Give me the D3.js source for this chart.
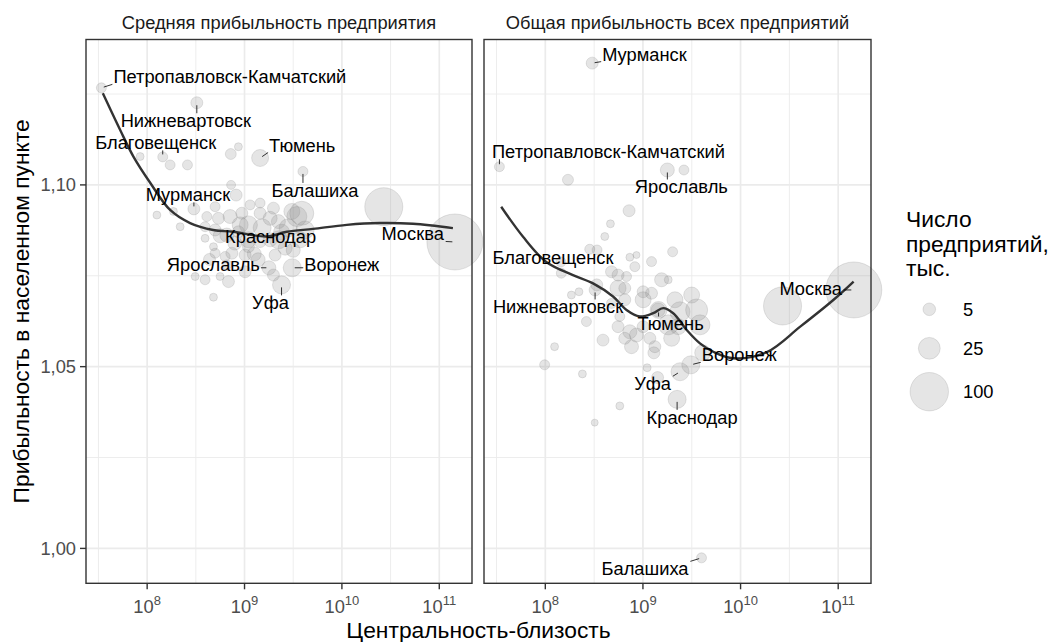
<!DOCTYPE html>
<html>
<head>
<meta charset="utf-8">
<script src="https://cdn.jsdelivr.net/npm/d3@7"></script>
<style>
  body { margin: 0; background: #fff; }
  text { font-family: "Liberation Sans", Arial, sans-serif; }
</style>
</head>
<body>
<svg id="chart" width="1049" height="642"></svg>
<script>
// labelled cities: log10 of closeness centrality, firms (thousands), profitability
const cityNames = ['Петропавловск-Камчатский', 'Нижневартовск', 'Благовещенск', 'Тюмень', 'Балашиха',
  'Мурманск', 'Краснодар', 'Ярославль', 'Воронеж', 'Уфа', 'Москва'];
const cityLogC = [7.53, 8.51, 8.16, 9.16, 9.60, 8.48, 9.35, 9.25, 9.49, 9.38, 11.16];
const cityFirms = [2.1, 4.2, 2.1, 12.7, 2.1, 4.2, 15, 7.1, 15, 15, 234];
const cityAvgProfit = [1.1267, 1.1226, 1.1077, 1.1074, 1.1037, 1.0934, 1.0849, 1.0772, 1.0772, 1.0725, 1.0843];
const cityTotalProfit = [1.1050, 1.0711, 1.0788, 1.0656, 0.9974, 1.1335, 1.0410, 1.1041, 1.0505, 1.0486, 1.0711];

// other cities [log10 centrality, profitability, firms]
const avgOthers = [
  [8.937, 1.1105, 0.7], [8.859, 1.1085, 3.0], [7.928, 1.1078, 0.7], [8.236, 1.1055, 2.1], [8.414, 1.1055, 2.1],
  [8.862, 1.1000, 1.3], [8.914, 1.0972, 4.2], [8.698, 1.0940, 2.1], [8.270, 1.0927, 0.7], [8.100, 1.0917, 0.7],
  [8.613, 1.0913, 2.1], [8.732, 1.0908, 4.2], [8.852, 1.0913, 7.1], [8.972, 1.0922, 4.2], [9.057, 1.0945, 2.1],
  [9.160, 1.0950, 2.1], [9.160, 1.0922, 4.2], [9.297, 1.0936, 4.2], [9.263, 1.0908, 7.1], [9.348, 1.0899, 7.1],
  [9.537, 1.0913, 20], [9.588, 1.0922, 32], [9.486, 1.0927, 10.6], [8.339, 1.0885, 0.7], [8.595, 1.0885, 2.1],
  [8.595, 1.0853, 0.7], [8.698, 1.0876, 4.2], [8.818, 1.0862, 7.1], [8.937, 1.0871, 4.2], [9.040, 1.0849, 10.6],
  [9.040, 1.0830, 4.2], [9.160, 1.0844, 4.2], [9.263, 1.0849, 7.1], [9.417, 1.0826, 7.1], [9.571, 1.0849, 10.6],
  [8.681, 1.0830, 0.7], [8.801, 1.0803, 2.1], [8.698, 1.0812, 2.1], [9.006, 1.0807, 4.2], [9.314, 1.0807, 4.2],
  [8.493, 1.0748, 0.7], [8.595, 1.0739, 2.1], [8.749, 1.0748, 0.7], [8.835, 1.0734, 4.2], [8.681, 1.0691, 0.7],
  [8.870, 1.0812, 4.2], [9.006, 1.0761, 4.2], [9.297, 1.0752, 4.2], [8.818, 1.0780, 2.1], [8.955, 1.0890, 10.6],
  [9.448, 1.0882, 14.9], [9.181, 1.0882, 14.9], [9.622, 1.0876, 14.9], [9.140, 1.0794, 7.1], [10.43, 1.0940, 98],
  [9.040, 1.0890, 14.9], [8.750, 1.0860, 7.1], [9.380, 1.0870, 10.6], [9.500, 1.0820, 7.1], [8.900, 1.0840, 7.1],
  [9.100, 1.0810, 7.1], [8.640, 1.0795, 4.2]
];
const totalOthers = [
  [8.232, 1.1014, 3.1], [9.420, 1.1041, 2.1], [8.858, 1.0929, 4.2], [8.667, 1.0893, 0.7], [8.609, 1.0858, 0.7],
  [8.455, 1.0823, 2.1], [8.530, 1.0821, 2.1], [8.934, 1.0807, 0.3], [8.866, 1.0801, 0.7], [9.304, 1.0816, 2.1],
  [9.088, 1.0789, 2.1], [8.917, 1.0775, 2.1], [8.678, 1.0761, 4.2], [8.745, 1.0752, 4.2], [8.832, 1.0748, 2.1],
  [9.191, 1.0739, 7.1], [9.259, 1.0739, 0.7], [8.164, 1.0757, 2.1], [8.267, 1.0697, 0.7], [8.345, 1.0706, 0.7],
  [8.745, 1.0716, 10.6], [8.814, 1.0716, 4.2], [9.002, 1.0706, 4.2], [9.088, 1.0702, 4.2], [9.002, 1.0684, 10.6],
  [9.328, 1.0684, 10.6], [9.499, 1.0697, 10.6], [9.550, 1.0656, 25.7], [9.584, 1.0615, 20], [9.379, 1.0651, 20],
  [9.259, 1.0615, 20], [9.156, 1.0656, 7.1], [8.814, 1.0684, 4.2], [8.678, 1.0674, 2.1], [8.421, 1.0624, 2.1],
  [8.763, 1.0638, 2.1], [8.745, 1.0610, 4.2], [8.866, 1.0596, 7.1], [8.934, 1.0587, 7.1], [8.814, 1.0578, 4.2],
  [9.002, 1.0610, 4.2], [9.071, 1.0578, 4.2], [8.883, 1.0555, 7.1], [8.591, 1.0573, 4.2], [9.294, 1.0578, 10.6],
  [9.361, 1.0610, 10.6], [9.122, 1.0555, 4.2], [8.095, 1.0555, 0.7], [7.993, 1.0505, 2.1], [8.380, 1.0480, 0.7],
  [9.043, 1.0497, 0.7], [9.150, 1.0470, 4.2], [8.763, 1.0392, 0.7], [8.506, 1.0346, 0.3], [9.112, 1.0538, 4.2],
  [9.612, 1.0538, 10.6], [8.527, 1.0725, 4.2], [10.43, 1.0667, 98]
];

// loess trend lines [log10 centrality, profitability]
const avgTrend = [
  [7.545, 1.1252], [7.723, 1.1151], [7.859, 1.1078], [8.031, 1.1006], [8.236, 1.0931], [8.441, 1.0895],
  [8.678, 1.0876], [8.883, 1.0871], [9.229, 1.0858], [9.434, 1.0871], [9.704, 1.0879], [10.05, 1.0890],
  [10.39, 1.0895], [10.73, 1.0893], [11.14, 1.0881]
];
const totalTrend = [
  [7.548, 1.0940], [7.770, 1.0858], [8.010, 1.0788], [8.283, 1.0752], [8.489, 1.0729], [8.694, 1.0693],
  [8.832, 1.0656], [8.968, 1.0638], [9.105, 1.0647], [9.207, 1.0661], [9.310, 1.0647], [9.448, 1.0601],
  [9.584, 1.0564], [9.721, 1.0541], [9.926, 1.0523], [10.269, 1.0540], [10.611, 1.0610], [10.953, 1.0684],
  [11.158, 1.0734]
];

const xTicks = [8, 9, 10, 11];
const xMinor = [7.5, 8.5, 9.5, 10.5];
const yTicks = [1.00, 1.05, 1.10];
const yMinor = [1.025, 1.075, 1.125];
const legendValues = [5, 25, 100];

// label placement relative to point: [anchor, dx, dy]
const avgLabelPos = {
  'Петропавловск-Камчатский': ['start', 12, -11], 'Нижневартовск': ['middle', -11, 18],
  'Благовещенск': ['middle', -7, -14], 'Тюмень': ['start', 9, -13], 'Балашиха': ['middle', 12, 19],
  'Мурманск': ['middle', -6, -14], 'Краснодар': ['middle', -8, -3], 'Ярославль': ['end', -9, -3],
  'Воронеж': ['start', 12, -3], 'Уфа': ['middle', -11, 18], 'Москва': ['end', -11, -8]
};
const totalLabelPos = {
  'Петропавловск-Камчатский': ['middle', 109, -15], 'Нижневартовск': ['middle', -37, 17],
  'Благовещенск': ['middle', -8, -4], 'Тюмень': ['middle', 12, 14], 'Балашиха': ['end', -13, 11],
  'Мурманск': ['start', 10, -9], 'Краснодар': ['middle', 15, 18], 'Ярославль': ['middle', 14, 17],
  'Воронеж': ['start', 11, -10], 'Уфа': ['end', -9, 12], 'Москва': ['end', -12, -1]
};

const svg = d3.select('#chart');
const plotTop = 39.5, plotBottom = 583.3;
const small = 18.3, big = 22.8;

const y = d3.scaleLinear().domain([0.9904, 1.1400]).range([plotBottom, plotTop]);
const size = d3.scalePow().exponent(0.5).domain([5, 100]).range([6.3, 19.2]);

const panels = [
  { title: 'Средняя прибыльность предприятия', x0: 86, x1: 472, profit: cityAvgProfit,
    others: avgOthers, trend: avgTrend, labelPos: avgLabelPos },
  { title: 'Общая прибыльность всех предприятий', x0: 484, x1: 871, profit: cityTotalProfit,
    others: totalOthers, trend: totalTrend, labelPos: totalLabelPos }
];

const ptFill = 'rgba(127,127,127,0.2)';

panels.forEach((p, pi) => {
  const x = d3.scaleLinear().domain([7.372, 11.336]).range([p.x0, p.x1]);
  const g = svg.append('g');

  g.append('rect').attr('x', p.x0).attr('y', plotTop).attr('width', p.x1 - p.x0)
    .attr('height', plotBottom - plotTop).attr('fill', '#fff');

  // grid
  g.selectAll('.xminor').data(xMinor).enter().append('line')
    .attr('x1', d => x(d)).attr('x2', d => x(d)).attr('y1', plotTop).attr('y2', plotBottom)
    .attr('stroke', '#ebebeb').attr('stroke-width', 0.9);
  g.selectAll('.yminor').data(yMinor).enter().append('line')
    .attr('y1', d => y(d)).attr('y2', d => y(d)).attr('x1', p.x0).attr('x2', p.x1)
    .attr('stroke', '#ebebeb').attr('stroke-width', 0.9);
  g.selectAll('.xmajor').data(xTicks).enter().append('line')
    .attr('x1', d => x(d)).attr('x2', d => x(d)).attr('y1', plotTop).attr('y2', plotBottom)
    .attr('stroke', '#ebebeb').attr('stroke-width', 1.7);
  g.selectAll('.ymajor').data(yTicks).enter().append('line')
    .attr('y1', d => y(d)).attr('y2', d => y(d)).attr('x1', p.x0).attr('x2', p.x1)
    .attr('stroke', '#ebebeb').attr('stroke-width', 1.7);

  // points
  const pts = p.others.map(d => ({ lc: d[0], v: d[1], n: d[2] }))
    .concat(cityNames.map((nm, i) => ({ name: nm, lc: cityLogC[i], v: p.profit[i], n: cityFirms[i] })));
  g.selectAll('.pt').data(pts).enter().append('circle')
    .attr('cx', d => x(d.lc)).attr('cy', d => y(d.v)).attr('r', d => size(d.n))
    .attr('fill', ptFill).attr('stroke', ptFill).attr('stroke-width', 1);

  // trend
  const line = d3.line().curve(d3.curveCatmullRom).x(d => x(d[0])).y(d => y(d[1]));
  g.append('path').datum(p.trend).attr('d', line).attr('fill', 'none')
    .attr('stroke', '#333').attr('stroke-width', 2.4);

  // labels with repel-like segments
  cityNames.forEach((nm, i) => {
    const px = x(cityLogC[i]), py = y(p.profit[i]);
    const pos = p.labelPos[nm];
    const t = g.append('text').attr('x', px + pos[1]).attr('y', py + pos[2])
      .attr('text-anchor', pos[0]).attr('dominant-baseline', 'central')
      .attr('font-size', small).attr('fill', '#000').text(nm);
    const b = t.node().getBBox();
    const bx0 = b.x - 1, bx1 = b.x + b.width + 1, by0 = b.y + 3, by1 = b.y + b.height - 3;
    const cx = Math.max(bx0, Math.min(px, bx1)), cy = Math.max(by0, Math.min(py, by1));
    const dx = px - cx, dy = py - cy, len = Math.hypot(dx, dy);
    if (len > 5) {
      const end = len - 2.5;
      g.append('line').attr('x1', cx).attr('y1', cy)
        .attr('x2', cx + dx / len * end).attr('y2', cy + dy / len * end)
        .attr('stroke', '#000').attr('stroke-width', 0.8);
    }
  });

  // border
  g.append('rect').attr('x', p.x0).attr('y', plotTop).attr('width', p.x1 - p.x0)
    .attr('height', plotBottom - plotTop).attr('fill', 'none').attr('stroke', '#333').attr('stroke-width', 1.4);

  // x axis
  const xa = g.append('g').attr('transform', `translate(0,${plotBottom})`);
  xa.selectAll('line').data(xTicks).enter().append('line')
    .attr('x1', d => x(d)).attr('x2', d => x(d)).attr('y1', 0).attr('y2', 6)
    .attr('stroke', '#333').attr('stroke-width', 1.4);
  const tl = xa.selectAll('text').data(xTicks).enter().append('text')
    .attr('x', d => x(d)).attr('y', 29.7).attr('text-anchor', 'middle')
    .attr('font-size', small).attr('fill', '#4d4d4d');
  tl.append('tspan').text('10');
  tl.append('tspan').attr('font-size', 13).attr('dy', -8).text(d => d);

  // strip title
  g.append('text').attr('x', (p.x0 + p.x1) / 2).attr('y', 22.5).attr('text-anchor', 'middle')
    .attr('dominant-baseline', 'central').attr('font-size', small).attr('fill', '#1a1a1a').text(p.title);

  // y axis on the first panel only
  if (pi === 0) {
    const ya = g.append('g');
    ya.selectAll('line').data(yTicks).enter().append('line')
      .attr('x1', p.x0 - 6).attr('x2', p.x0).attr('y1', d => y(d)).attr('y2', d => y(d))
      .attr('stroke', '#333').attr('stroke-width', 1.4);
    ya.selectAll('text').data(yTicks).enter().append('text')
      .attr('x', p.x0 - 10).attr('y', d => y(d)).attr('text-anchor', 'end')
      .attr('dominant-baseline', 'central').attr('font-size', small).attr('fill', '#4d4d4d')
      .text(d => d3.format('.2f')(d).replace('.', ','));
  }
});

// axis titles
svg.append('text').attr('x', 478.5).attr('y', 630).attr('text-anchor', 'middle')
  .attr('dominant-baseline', 'central').attr('font-size', big).attr('fill', '#000')
  .text('Центральность-близость');
svg.append('text').attr('transform', `translate(21,${(plotTop + plotBottom) / 2}) rotate(-90)`)
  .attr('text-anchor', 'middle').attr('dominant-baseline', 'central').attr('font-size', big)
  .attr('fill', '#000').text('Прибыльность в населенном пункте');

// legend
const lg = svg.append('g');
['Число', 'предприятий,', 'тыс.'].forEach((s, i) => {
  lg.append('text').attr('x', 906).attr('y', 219 + i * 24.5).attr('dominant-baseline', 'central')
    .attr('font-size', big).attr('fill', '#000').text(s);
});
const keyY = [309.3, 348.3, 391.7];
lg.selectAll('circle').data(legendValues).enter().append('circle')
  .attr('cx', 929.3).attr('cy', (d, i) => keyY[i]).attr('r', d => size(d))
  .attr('fill', ptFill).attr('stroke', ptFill).attr('stroke-width', 1);
lg.selectAll('.lt').data(legendValues).enter().append('text')
  .attr('x', 963).attr('y', (d, i) => keyY[i]).attr('dominant-baseline', 'central')
  .attr('font-size', small).attr('fill', '#000').text(d => d);
</script>
</body>
</html>
